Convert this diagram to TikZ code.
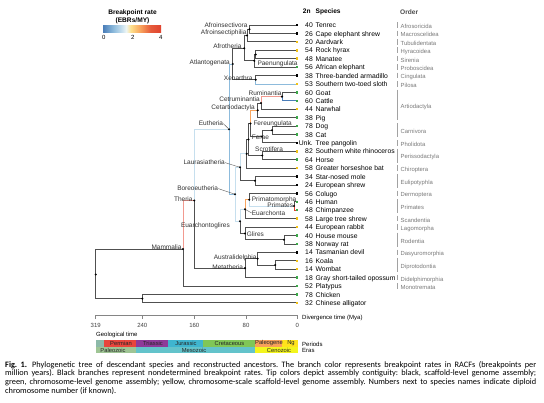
\documentclass[tikz,border=0pt]{standalone}
\usepackage{fontspec}
\setmainfont{Liberation Sans}
\newfontfamily\capfont{Carlito}
\usepackage{tikz}
\usetikzlibrary{positioning}
\usetikzlibrary{calc}
\pgfdeclarelayer{phylobg}
\pgfsetlayers{phylobg,main}

\definecolor{branchgray}{HTML}{505050}
\definecolor{labelgray}{HTML}{333333}
\definecolor{ordergray}{HTML}{7A7A7A}
\definecolor{tipgreen}{HTML}{3DAA4A}
\definecolor{tipyellow}{HTML}{F3C316}
\definecolor{rateblue}{HTML}{4A7DB8}
\definecolor{ratemid}{HTML}{8DBBDC}
\definecolor{ratelight}{HTML}{C6DFEE}
\definecolor{ratepale}{HTML}{EEF6F4}
\definecolor{rateyellow}{HTML}{FDE08C}
\definecolor{rateorange}{HTML}{F9A55E}
\definecolor{ratered}{HTML}{E0432F}
\definecolor{ratepink}{HTML}{F29A90}
\definecolor{carbon}{HTML}{8DB9A9}
\definecolor{permian}{HTML}{E8453C}
\definecolor{triassic}{HTML}{8E3A99}
\definecolor{jurassic}{HTML}{3FB5CF}
\definecolor{cretaceous}{HTML}{80C657}
\definecolor{paleogene}{HTML}{F8A05A}
\definecolor{neogene}{HTML}{FFE31C}
\definecolor{paleozoic}{HTML}{9FC595}
\definecolor{mesozoic}{HTML}{63C3CB}
\definecolor{cenozoic}{HTML}{F3F51D}

\pgfdeclarehorizontalshading{breakrate}{100bp}{color(0bp)=(rateblue); color(25bp)=(rateblue); color(34bp)=(ratemid); color(41bp)=(ratelight); color(45bp)=(ratepale); color(49bp)=(rateyellow); color(57bp)=(rateorange); color(66bp)=(ratered!75!rateorange); color(75bp)=(ratered); color(100bp)=(ratered)}

\tikzset{
	branch/.style={draw=branchgray, line width=0.8pt},
	anc/.style={circle, fill=black, inner sep=0pt, minimum size=2.3pt},
	leafbox/.style={rectangle, fill=#1, inner sep=0pt, minimum size=2.5pt},
	clade/.style={font=\fontsize{6.5}{7}\selectfont, text=labelgray, inner sep=0pt},
	species/.style={font=\fontsize{6.8}{7}\selectfont, inner sep=0pt, anchor=mid west},
	chrom/.style={font=\fontsize{6.8}{7}\selectfont, inner sep=0pt, anchor=mid east},
	ordername/.style={font=\fontsize{5.9}{7}\selectfont, text=ordergray, inner sep=0pt, anchor=mid west},
	orderbar/.style={draw=ordergray!70, line width=0.7pt},
	header/.style={font=\bfseries\fontsize{6.6}{7}\selectfont, inner sep=0pt, anchor=mid west},
	small/.style={font=\fontsize{6}{7}\selectfont, inner sep=0pt},
	geobox/.style={font=\fontsize{5.8}{7}\selectfont, text=black!85, inner sep=0pt},
	leader/.style={draw=labelgray!80, line width=0.4pt}
}

\begin{document}
\begin{tikzpicture}[x=1pt,y=-1pt]
	\useasboundingbox (0,0) rectangle (544,402);

	% legend
	\node[font=\bfseries\fontsize{6.6}{7}\selectfont, inner sep=0pt] at (132.5,12.7) (legtitle) {Breakpoint rate};
	\node[font=\bfseries\fontsize{6.6}{7}\selectfont, inner sep=0pt] at (132.5,21) (legunit) {(EBRs/MY)};
	\shade[shading=breakrate] (103,25.3) rectangle (161,32.3);
	\node[small] at (103.7,37.7) (leg0) {0};
	\node[small] at (132.7,37.7) (leg2) {2};
	\node[small] at (160.7,37.7) (leg4) {4};

	% headers
	\node[header] at (302.7,11) (h2n) {2n};
	\node[header] at (315.5,11) (hspec) {Species};
	\node[header, text=black!70] at (400,12) (horder) {Order};

	% tips
	\foreach \i/\n/\sp/\c in {1/40/Tenrec/black, 2/26/Cape elephant shrew/black, 3/20/Aardvark/tipyellow, 4/54/Rock hyrax/tipyellow, 5/48/Manatee/tipyellow, 6/56/African elephant/tipgreen, 7/38/Three-banded armadillo/black, 8/53/Southern two-toed sloth/tipyellow, 9/60/Goat/tipgreen, 10/60/Cattle/tipgreen, 11/44/Narwhal/tipyellow, 12/38/Pig/tipgreen, 13/78/Dog/tipgreen, 14/38/Cat/tipgreen, 15/Unk./Tree pangolin/black, 16/82/Southern white rhinoceros/tipyellow, 17/64/Horse/tipgreen, 18/58/Greater horseshoe bat/tipyellow, 19/34/Star-nosed mole/black, 20/24/European shrew/black, 21/56/Colugo/black, 22/46/Human/tipgreen, 23/48/Chimpanzee/tipgreen, 24/58/Large tree shrew/tipyellow, 25/44/European rabbit/tipyellow, 26/40/House mouse/tipgreen, 27/38/Norway rat/tipgreen, 28/14/Tasmanian devil/black, 29/16/Koala/tipyellow, 30/14/Wombat/tipyellow, 31/18/Gray short-tailed opossum/tipgreen, 32/52/Platypus/tipgreen, 33/78/Chicken/tipgreen, 34/32/Chinese alligator/tipyellow} {
		\node[leafbox=\c] at (297,{25+(\i-1)*8.42}) (t\i) {};
		\node[chrom] at (313,{25+(\i-1)*8.42}) (n\i) {\n};
		\node[species] at (315.5,{25+(\i-1)*8.42}) (s\i) {\sp};
	}

	% orders
	\foreach \o/\a/\b in {Afrosoricida/1/1, Macroscelidea/2/2, Tubulidentata/3/3, Hyracoidea/4/4, Sirenia/5/5, Proboscidea/6/6, Cingulata/7/7, Pilosa/8/8, Artiodactyla/9/12, Carnivora/13/14, Pholidota/15/15, Perissodactyla/16/17, Chiroptera/18/18, Eulipotyphla/19/20, Dermoptera/21/21, Primates/22/23, Scandentia/24/24, Lagomorpha/25/25, Rodentia/26/27, Dasyuromorphia/28/28, Diprotodontia/29/30, Didelphimorphia/31/31, Monotremata/32/32} {
		\draw[orderbar] (397.5,{25+(\a-1)*8.42-2.8}) -- (397.5,{25+(\b-1)*8.42+2.8});
		\node[ordername] at (400.5,{25+(\a+\b-2)*4.21+0.8}) (o\a) {\o};
	}

	% ancestors
	\node[anc] at (249.5,29.2) (afroinsectivora) {};
	\node[anc] at (247,35.5) (afroinsectiphilia) {};
	\node[anc] at (255.7,54.5) (hyrman) {};
	\node[anc] at (254.3,60.8) (paenungulata) {};
	\node[anc] at (244.3,48.2) (afrotheria) {};
	\node[anc] at (255.7,79.7) (xenarthra) {};
	\node[anc] at (232.7,64) (atlantogenata) {};
	\node[anc] at (282,96.6) (ruminantia) {};
	\node[anc] at (261,102.9) (cetruminantia) {};
	\node[anc] at (257.7,110.3) (cetartiodactyla) {};
	\node[anc] at (272,130.3) (carnivora) {};
	\node[anc] at (262,136.6) (ferae) {};
	\node[anc] at (250.5,123.4) (fereungulata) {};
	\node[anc] at (262.3,155.5) (perisso) {};
	\node[anc] at (248.5,139.5) (feruperisso) {};
	\node[anc] at (246.7,153.8) (scrotifera) {};
	\node[anc] at (255,180.8) (eulipotyphla) {};
	\node[anc] at (240,167.3) (laurasiatheria) {};
	\node[anc] at (294,206) (primates) {};
	\node[anc] at (249.3,199.7) (primatomorpha) {};
	\node[anc] at (245,209.2) (euarchonta) {};
	\node[anc] at (284,239.7) (murinae) {};
	\node[anc] at (245,233.4) (glires) {};
	\node[anc] at (240,221.3) (euarchontoglires) {};
	\node[anc] at (235,194.3) (boreoeutheria) {};
	\node[anc] at (229,129.2) (eutheria) {};
	\node[anc] at (275.3,265) (vombat) {};
	\node[anc] at (257.7,258.6) (australidelphia) {};
	\node[anc] at (245,268.1) (metatheria) {};
	\node[anc] at (194.3,200.5) (theria) {};
	\node[anc] at (183,249) (mammalia) {};
	\node[anc] at (142.3,298.6) (sauria) {};
	\node[anc] at (95.7,274.5) (amniota) {};

	% branches
	\begin{pgfonlayer}{phylobg}
		\fill[white] (0,0) rectangle (544,402);
		\foreach \p/\c in {afroinsectivora/t1, afroinsectivora/t2, afroinsectiphilia/afroinsectivora, afroinsectiphilia/t3, hyrman/t4, hyrman/t5, paenungulata/hyrman, paenungulata/t6, afrotheria/afroinsectiphilia, afrotheria/paenungulata, xenarthra/t7, atlantogenata/afrotheria, atlantogenata/xenarthra, ruminantia/t9, cetruminantia/t11, cetartiodactyla/cetruminantia, cetartiodactyla/t12, carnivora/t13, carnivora/t14, ferae/carnivora, ferae/t15, fereungulata/ferae, perisso/t16, perisso/t17, feruperisso/fereungulata, feruperisso/perisso, scrotifera/feruperisso, scrotifera/t18, eulipotyphla/t19, eulipotyphla/t20, laurasiatheria/eulipotyphla, primates/t22, primatomorpha/t21, euarchonta/t24, murinae/t26, murinae/t27, glires/t25, glires/murinae, euarchontoglires/glires, vombat/t29, vombat/t30, australidelphia/t28, australidelphia/vombat, metatheria/australidelphia, metatheria/t31, theria/metatheria, mammalia/t32, sauria/t33, sauria/t34, amniota/mammalia, amniota/sauria}
			\draw[branch] (\p.center) |- (\c.center);
		\foreach \p/\c/\k in {xenarthra/t8/ratemid, ruminantia/t10/rateblue, cetruminantia/ruminantia/ratepink, fereungulata/cetartiodactyla/rateorange, laurasiatheria/scrotifera/ratelight, boreoeutheria/laurasiatheria/ratelight, boreoeutheria/euarchontoglires/ratelight, euarchontoglires/euarchonta/ratelight, euarchonta/primatomorpha/rateorange, primatomorpha/primates/ratelight, primates/t23/ratered, eutheria/atlantogenata/ratemid, eutheria/boreoeutheria/ratemid, theria/eutheria/ratelight, mammalia/theria/ratepink}
			\draw[branch, draw=\k] (\p.center) |- (\c.center);
	\end{pgfonlayer}

	% clade labels
	\node[clade, anchor=mid east] at (247.7,25) (lafroinsectivora) {Afroinsectivora};
	\node[clade, anchor=mid east] at (246.7,32.3) (lafroinsectiphilia) {Afroinsectiphilia};
	\node[clade, anchor=mid east] at (241.7,45.7) (lafrotheria) {Afrotheria};
	\node[clade, anchor=mid east] at (230,61.7) (latlantogenata) {Atlantogenata};
	\node[clade, anchor=mid west] at (257.3,62.8) (lpaenungulata) {Paenungulata};
	\node[clade, anchor=mid east] at (252.7,77.7) (lxenarthra) {Xenarthra};
	\node[clade, anchor=mid east] at (281.7,93.3) (lruminantia) {Ruminantia};
	\node[clade, anchor=mid east] at (260,99.3) (lcetruminantia) {Cetruminantia};
	\node[clade, anchor=mid east] at (255,107.3) (lcetartiodactyla) {Cetartiodactyla};
	\node[clade, anchor=mid west] at (253.3,122.7) (lfereungulata) {Fereungulata};
	\node[clade, anchor=mid west] at (251.7,136.7) (lferae) {Ferae};
	\node[clade, anchor=mid west] at (255,149.3) (lscrotifera) {Scrotifera};
	\node[clade, anchor=mid east] at (223.3,123.3) (leutheria) {Eutheria};
	\node[clade, anchor=mid east] at (225,162.3) (llaurasiatheria) {Laurasiatheria};
	\node[clade, anchor=mid east] at (218.3,188.3) (lboreoeutheria) {Boreoeutheria};
	\node[clade, anchor=mid east] at (192.7,199) (ltheria) {Theria};
	\node[clade, anchor=mid west] at (251.7,199) (lprimatomorpha) {Primatomorpha};
	\node[clade, anchor=mid east] at (293.3,205) (lprimates) {Primates};
	\node[clade, anchor=mid west] at (251.7,212.7) (leuarchonta) {Euarchonta};
	\node[clade, anchor=mid east] at (230,225) (leuarchontoglires) {Euarchontoglires};
	\node[clade, anchor=mid west] at (246.7,234.3) (lglires) {Glires};
	\node[clade, anchor=mid east] at (181.7,247.3) (lmammalia) {Mammalia};
	\node[clade, anchor=mid east] at (256.7,257.3) (laustralidelphia) {Australidelphia};
	\node[clade, anchor=mid east] at (243.3,266.7) (lmetatheria) {Metatheria};
	\draw[leader] (leutheria.east) -- (eutheria);
	\draw[leader] (llaurasiatheria.east) -- (laurasiatheria);
	\draw[leader] (lboreoeutheria.east) -- (boreoeutheria);
	\draw[leader] (euarchonta) -- (leuarchonta.west);

	% time axis
	\draw[branchgray!70, line width=0.6pt] (95.7,319) -- (95.7,315.7) -- (297.3,315.7) -- (297.3,319);
	\foreach \x/\t in {142.3/240, 194.3/160, 246/80}
		\draw[branchgray!70, line width=0.6pt] (\x,315.7) -- (\x,319);
	\foreach \x/\t in {95.7/319, 142.3/240, 194.3/160, 246/80, 297.3/0}
		\node[small, text=black!75] at (\x,325) (ax\t) {\t};
	\node[small, anchor=mid west] at (302,316.7) (axtitle) {Divergence time (Mya)};

	% geological time
	\node[small, anchor=mid west] at (96,334) (geotitle) {Geological time};
	\fill[carbon] (95.7,340) rectangle (104,346.7);
	\fill[permian] (104,340) rectangle (135.5,346.7);
	\fill[triassic] (135.5,340) rectangle (168.3,346.7);
	\fill[jurassic] (168.3,340) rectangle (203.3,346.7);
	\fill[cretaceous] (203.3,340) rectangle (255,346.7);
	\fill[paleogene] (255,340) rectangle (282,346.7);
	\fill[neogene] (282,340) rectangle (298,346.7);
	\fill[paleozoic] (95.7,346.7) rectangle (135.5,353.3);
	\fill[mesozoic] (135.5,346.7) rectangle (255,353.3);
	\fill[cenozoic] (255,346.7) rectangle (298,353.3);
	\node[geobox] at (121,343.4) (gpermian) {Permian};
	\node[geobox] at (153,343.4) (gtriassic) {Triassic};
	\node[geobox] at (186,343.4) (gjurassic) {Jurassic};
	\node[geobox] at (229.5,343.4) (gcretaceous) {Cretaceous};
	\node[geobox] at (269,343.4) (gpaleogene) {Paleogene};
	\node[geobox] at (291,343.4) (gneogene) {Ng};
	\node[geobox] at (113,350) (gpaleozoic) {Paleozoic};
	\node[geobox] at (194,350) (gmesozoic) {Mesozoic};
	\node[geobox] at (279,350) (gcenozoic) {Cenozoic};
	\node[small, anchor=mid west] at (302,343.4) (gperiods) {Periods};
	\node[small, anchor=mid west] at (302,350) (geras) {Eras};

	% caption
	\node[anchor=north west, inner sep=0pt, text width=531pt, align=justify, font=\capfont\frenchspacing\fontsize{8.3}{8.6}\selectfont] at (5,361) (caption) {\textbf{Fig.~1.}\hspace{5pt}Phylogenetic tree of descendant species and reconstructed ancestors. The branch color represents breakpoint rates in RACFs (breakpoints per\linebreak million years). Black branches represent nondetermined breakpoint rates. Tip colors depict assembly contiguity: black, scaffold-level genome assembly;\linebreak green, chromosome-level genome assembly; yellow, chromosome-scale scaffold-level genome assembly. Numbers next to species names indicate diploid\linebreak chromosome number (if known).};
\end{tikzpicture}
\end{document}
